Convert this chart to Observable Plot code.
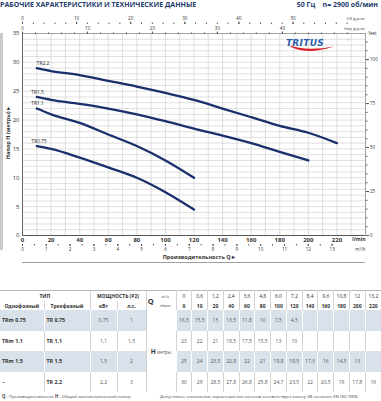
<!DOCTYPE html>
<html><head><meta charset="utf-8">
<script src="https://cdn.jsdelivr.net/npm/d3@7"></script>
<script src="https://cdn.jsdelivr.net/npm/@observablehq/plot@0.6"></script>
<style>
html,body{margin:0;padding:0;width:381px;height:401px;overflow:hidden;background:#fff;font-family:"Open Sans",sans-serif;}
#wrap{position:relative;width:381px;height:401px;}
#title{position:absolute;left:0;top:0;height:10px;line-height:10px;font-weight:bold;color:#1e3c6e;font-size:7px;white-space:nowrap;}
#freq{position:absolute;right:3px;top:0;height:10px;line-height:10px;font-weight:bold;color:#1e3c6e;font-size:7px;white-space:pre;}
#bar{position:absolute;left:0;top:33px;width:3px;height:217px;background:#c9c9c9;}
#chart{position:absolute;left:0;top:0;}
#tbl{position:absolute;left:0;top:290px;width:381px;border-collapse:collapse;table-layout:fixed;color:#333;}
#tbl td{padding:0;text-align:center;vertical-align:middle;border-left:1px solid #d3d3d3;overflow:hidden;white-space:nowrap;}
#tbl tr.h1 td{height:10px;font-size:5px;}
#tbl tr.h2 td{height:9px;font-size:5px;}
#tbl tr.h1{border-top:1px solid #b8b8b8;}
#tbl tr.d td{height:20.5px;font-size:5px;color:#555;}
#tbl tr.d td.nm{font-weight:bold;color:#333;text-align:left;padding-left:2px;font-size:5.3px;}
#tbl tr.s td.v, #tbl tr.s td.nm, #tbl tr.s td.pw{background:#d9e2eb;border-left-color:#fff;}
#tbl td.b{font-weight:bold;color:#333;}
#tbl td.first{border-left:none;}
#foot{position:absolute;left:2px;top:393px;font-size:4.3px;color:#444;white-space:nowrap;}
#foot2{position:absolute;left:160px;top:393px;font-size:4.3px;color:#444;white-space:nowrap;}
</style></head>
<body><div id="wrap">
<div id="bar"></div>
<div id="title">РАБОЧИЕ ХАРАКТЕРИСТИКИ И ТЕХНИЧЕСКИЕ ДАННЫЕ</div>
<div id="freq">50 Гц    n= 2900 об/мин</div>
<div id="chart"></div>
<table id="tbl"></table>
<div id="foot"><b>Q</b> - Производительность   <b>H</b> - Общий манометрический напор</div>
<div id="foot2">Допустимое отклонение характеристик насосов соответствует классу 3B согласно EN ISO 9906.</div>
</div>
<script>
// ---- data ----
const flowLmin = [0,10,20,40,60,80,100,120,140,160,180,200,220];
const flowM3h = ["0","0,6","1,2","2,4","3,6","4,8","6,0","7,2","8,4","9,6","10,8","12","13,2"];
const headTR075 = [16.5,15.5,15,13.5,11.8,10,7.5,4.5];
const headTR11 = [23,22,21,19.5,17.5,15.5,13,10];
const headTR15 = [25,24,23.5,22.8,22,21,19.8,18.5,17.3,16,14.5,13];
const headTR22 = [30,29,28.5,27.8,26.8,25.8,24.7,23.5,22,20.5,19,17.8,16];
const curveNames = ["TR0.75","TR1.1","TR1.5","TR2.2"];
const singlePhase = ["TRm 0.75","TRm 1.1","TRm 1.5","–"];
const threePhase = ["TR 0.75","TR 1.1","TR 1.5","TR 2.2"];
const powerKw = ["0,75","1,1","1,5","2,2"];
const powerHp = ["1","1,5","2","3"];
const xTicks = [0,20,40,60,80,100,120,140,160,180,200,220];
const yTicks = [0,5,10,15,20,25,30,35];
const feetTicks = [0,25,50,75,100];
const m3hTicks = [0,1,2,3,4,5,6,7,8,9,10,11,12,13];
const usTicks = [0,10,20,30,40,50];
const impTicks = [0,10,20,30,40];

// unit conversions
const US = 3.78541, IMP = 4.54609, M3H = 1000/60, FT = 0.3048;
const heads = [headTR075, headTR11, headTR15, headTR22];
const pts = heads.flatMap((h, k) => h.map((v, i) => ({model: curveNames[k], q: flowLmin[i], h: v}))).filter(d => d.q > 0);
const firstPts = curveNames.map(n => pts.find(d => d.model === n));

const txt = "#333";
const ax = {fill: txt, stroke: "#555", label: null};
const chart = Plot.plot({
  width: 381, height: 288,
  marginTop: 33, marginBottom: 53, marginLeft: 22, marginRight: 16,
  x: {domain: [0, 240], label: null},
  y: {domain: [0, 35], label: null},
  style: {fontFamily: "Open Sans", color: txt, background: "transparent"},
  marks: [
    Plot.gridX(d3.range(10, 240, 10), {stroke: "#cbcbcb", strokeOpacity: 1, strokeWidth: 0.6}),
    Plot.gridY(d3.range(1, 35, 1), {stroke: "#cbcbcb", strokeOpacity: 1, strokeWidth: 0.6}),
    Plot.frame({stroke: "#8a8a8a", strokeWidth: 0.8}),
    Plot.ruleY([0], {stroke: "#555", strokeWidth: 1.2}),
    Plot.ruleX([0], {stroke: "#666", strokeWidth: 1}),
    Plot.axisY(yTicks, {...ax, anchor: "left", tickSize: 0, tickPadding: 3, fontSize: 6}),
    Plot.axisY(d3.range(0, 115, 5).map(f => f * FT), {...ax, anchor: "right", tickSize: 1.5, tickFormat: () => ""}),
    Plot.axisY(feetTicks.map(f => f * FT), {...ax, anchor: "right", tickSize: 3, tickPadding: 1.5, fontSize: 4.5, tickFormat: d => Math.round(d / FT)}),
    Plot.axisX(xTicks, {...ax, anchor: "bottom", tickSize: 0, tickPadding: 2, fontSize: 6, fontWeight: "bold"}),
    Plot.axisX(d3.range(0, 13.01, 0.5).map(v => v * M3H), {...ax, anchor: "bottom", dy: 9, tickSize: 1.5, tickFormat: () => ""}),
    Plot.axisX(m3hTicks.map(v => v * M3H), {...ax, anchor: "bottom", dy: 9, tickSize: 2, tickPadding: 1, fontSize: 4.5, tickFormat: d => Math.round(d / M3H)}),
    Plot.axisX(d3.range(0, 61, 2).map(v => v * US), {...ax, anchor: "top", dy: -10, tickSize: 1.5, tickFormat: () => ""}),
    Plot.axisX(usTicks.map(v => v * US), {...ax, anchor: "top", dy: -10, tickSize: 2.5, tickPadding: 1, fontSize: 4.5, tickFormat: d => Math.round(d / US)}),
    Plot.axisX(d3.range(0, 51, 2).map(v => v * IMP), {...ax, anchor: "top", tickSize: 1.5, tickFormat: () => ""}),
    Plot.axisX(impTicks.map(v => v * IMP), {...ax, anchor: "top", tickSize: 2.5, tickPadding: 1, fontSize: 4.5, tickFormat: d => Math.round(d / IMP)}),
    Plot.text(["l/min"], {frameAnchor: "bottom-right", dy: 4, lineAnchor: "middle", textAnchor: "end", fontSize: 5, fontWeight: "bold", fill: txt}),
    Plot.text(["m³/h"], {frameAnchor: "bottom-right", dy: 14, lineAnchor: "middle", textAnchor: "end", fontSize: 4.5, fill: txt}),
    Plot.text(["US g.p.m."], {frameAnchor: "top-right", dy: -15, lineAnchor: "middle", textAnchor: "end", fontSize: 4.3, fill: txt}),
    Plot.text(["Imp g.p.m."], {frameAnchor: "top-right", dy: -5, lineAnchor: "middle", textAnchor: "end", fontSize: 4.3, fill: txt}),
    Plot.text(["feet"], {frameAnchor: "top-right", dx: 3, dy: 0, lineAnchor: "middle", textAnchor: "start", fontSize: 4.5, fill: txt}),
    Plot.line(pts, {x: "q", y: "h", z: "model", curve: "monotone-x", stroke: "#1a2f6b", strokeWidth: 2.3}),
    Plot.text(firstPts.filter(d => d.model === "TR2.2"), {x: "q", y: "h", text: "model", dx: 0, dy: -5, textAnchor: "start", fontSize: 4.8, fill: "#222"}),
    Plot.text(firstPts.filter(d => d.model !== "TR2.2"), {x: "q", y: "h", text: "model", dx: -5.5, dy: -5, textAnchor: "start", fontSize: 4.8, fill: "#222"})
  ]
});
document.getElementById("chart").appendChild(chart);

// decorations: axis titles, separator line, logo
const svg = d3.select(chart);
svg.append("text").attr("transform", "translate(9,133) rotate(-90)")
  .attr("text-anchor", "middle").attr("dominant-baseline", "middle")
  .attr("font-size", 5.5).attr("font-weight", "bold").attr("fill", txt)
  .text("Напор H (метры) ▸");
svg.append("text").attr("x", 235).attr("y", 258)
  .attr("text-anchor", "end").attr("dominant-baseline", "middle")
  .attr("font-size", 5.5).attr("font-weight", "bold").attr("fill", txt)
  .text("Производительность Q ▸");
svg.append("line").attr("x1", 22).attr("x2", 365).attr("y1", 262.5).attr("y2", 262.5)
  .attr("stroke", "#888").attr("stroke-width", 0.8);
const logo = svg.append("g");
logo.append("path").attr("d", "M288,45 Q304,56 334,46.5 Q306,51.5 288,45 Z").attr("fill", "#d81e25");
logo.append("text").attr("x", 305).attr("y", 46).attr("font-family", "DejaVu Sans")
  .attr("font-size", 9).attr("font-weight", "bold").attr("font-style", "italic")
  .attr("fill", "#2a5cad").attr("letter-spacing", 0.3).text("TRITUS");
logo.append("text").attr("x", 348).attr("y", 41).attr("font-size", 2.5).attr("fill", "#2a5cad").text("®");

// ---- table ----
const tbl = d3.select("#tbl");
const cg = tbl.append("colgroup");
[44, 46, 27, 29, 9, 21].concat(d3.range(13).map(() => 205/13)).forEach(w => cg.append("col").style("width", w + "px"));
const r1 = tbl.append("tr").attr("class", "h1");
r1.append("td").attr("colspan", 2).attr("class", "b first").text("ТИП");
r1.append("td").attr("colspan", 2).attr("class", "b").text("МОЩНОСТЬ (P2)");
r1.append("td").attr("rowspan", 2).attr("class", "b").style("font-size", "7.5px").style("border-right", "none").text("Q");
r1.append("td").style("font-size", "3.6px").style("border-left", "none").html("м³/ч");
flowM3h.forEach(v => r1.append("td").text(v));
const r2 = tbl.append("tr").attr("class", "h2");
r2.append("td").attr("class", "b first").text("Однофазный");
r2.append("td").attr("class", "b").text("Трехфазный");
r2.append("td").attr("class", "b").text("кВт");
r2.append("td").attr("class", "b").text("л.с.");
r2.append("td").style("font-size", "3.6px").style("border-left", "none").text("л/мин");
flowLmin.forEach(v => r2.append("td").attr("class", "b").text(v));
heads.forEach((h, k) => {
  const r = tbl.append("tr").attr("class", "d" + (k % 2 === 0 ? " s" : ""));
  r.append("td").attr("class", "nm first").text(singlePhase[k]);
  r.append("td").attr("class", "nm").text(threePhase[k]);
  r.append("td").attr("class", "pw").text(powerKw[k]);
  r.append("td").attr("class", "pw").text(powerHp[k]);
  if (k === 0) r.append("td").attr("colspan", 2).attr("rowspan", 4).style("background", "#fff")
    .html('<b style="font-size:6.5px;color:#333">H</b> <span style="font-size:4.5px">метры</span>');
  flowLmin.forEach((q, i) => r.append("td").attr("class", "v").text(h[i] !== undefined ? String(h[i]).replace(".", ",") : ""));
});
</script>
</body></html>
